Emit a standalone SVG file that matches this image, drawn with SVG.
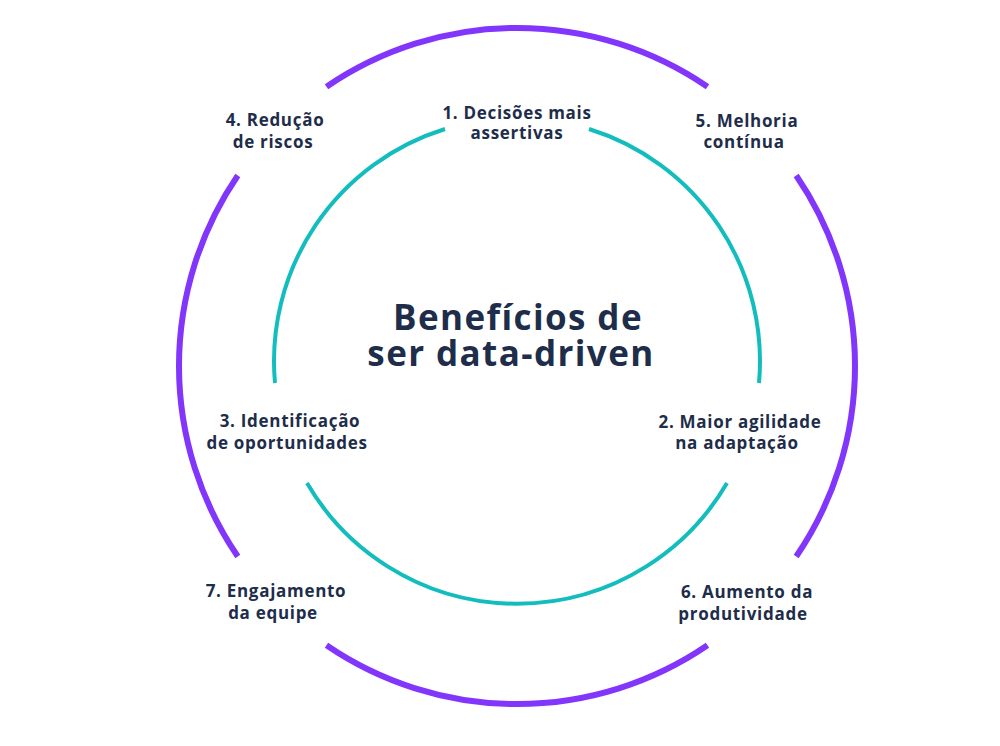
<svg xmlns="http://www.w3.org/2000/svg" width="1000" height="746" viewBox="0 0 1000 746">
<style>
.outer{fill:none;stroke:#8236fc;stroke-width:6;stroke-linecap:butt}
.inner{fill:none;stroke:#13bdbd;stroke-width:4;stroke-linecap:butt}
text{font-family:"Open Sans","Liberation Sans",sans-serif;font-weight:700;fill:#1e2d4a;text-anchor:middle}
.lbl{font-size:17px;letter-spacing:0.7px}
.title{font-size:35px;letter-spacing:1.4px}
</style>
<rect width="1000" height="746" fill="#ffffff"/>
<g id="connectors">
<path class="outer" d="M326.5,86.8 A338,338 0 0 1 707.5,86.8"/>
<path class="outer" d="M796.2,175.5 A338,338 0 0 1 796.2,556.5"/>
<path class="outer" d="M707.5,645.2 A338,338 0 0 1 326.5,645.2"/>
<path class="outer" d="M237.8,556.5 A338,338 0 0 1 237.8,175.5"/>
<path class="inner" d="M445,129 A243,243 0 0 0 275,383"/>
<path class="inner" d="M307,483 A243,243 0 0 0 727,483"/>
<path class="inner" d="M759,383 A243,243 0 0 0 589,129"/>
</g>
<g id="title"><text class="title" x="518" y="330">Benefícios de</text><text class="title" x="511" y="366">ser data-driven</text></g>
<g id="n1"><text class="lbl" x="517" y="119">1. Decisões mais</text><text class="lbl" x="517" y="139">assertivas</text></g>
<g id="n2"><text class="lbl" x="740" y="428">2. Maior agilidade</text><text class="lbl" x="737" y="449">na adaptação</text></g>
<g id="n3"><text class="lbl" x="290" y="427">3. Identificação</text><text class="lbl" x="287" y="449">de oportunidades</text></g>
<g id="n4"><text class="lbl" x="275" y="126">4. Redução</text><text class="lbl" x="273" y="148">de riscos</text></g>
<g id="n5"><text class="lbl" x="747" y="127">5. Melhoria</text><text class="lbl" x="744" y="148">contínua</text></g>
<g id="n6"><text class="lbl" x="747" y="598">6. Aumento da</text><text class="lbl" x="743" y="620">produtividade</text></g>
<g id="n7"><text class="lbl" x="276" y="597">7. Engajamento</text><text class="lbl" x="273" y="619">da equipe</text></g>
</svg>
